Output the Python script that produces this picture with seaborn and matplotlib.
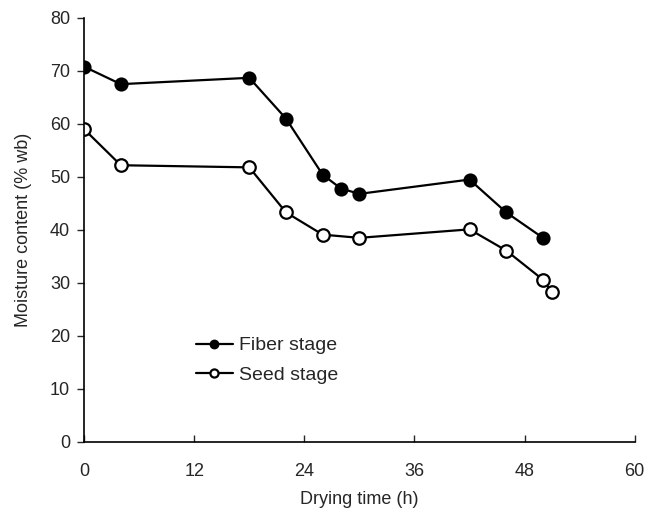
import pandas as pd
import matplotlib
matplotlib.use('Agg')
import matplotlib.pyplot as plt
import seaborn as sns

# data
fiber_time = [0, 4, 18, 22, 26, 28, 30, 42, 46, 50]
fiber_moisture = [70.8, 67.5, 68.7, 61.0, 50.4, 47.8, 46.8, 49.5, 43.3, 38.5]
seed_time = [0, 4, 18, 22, 26, 30, 42, 46, 50, 51]
seed_moisture = [59.0, 52.2, 51.8, 43.3, 39.1, 38.5, 40.1, 36.1, 30.6, 28.2]

fiber = pd.DataFrame({'time': fiber_time, 'moisture': fiber_moisture})
seed = pd.DataFrame({'time': seed_time, 'moisture': seed_moisture})

sns.set_style('ticks')
plt.rcParams['font.family'] = ['Liberation Sans', 'DejaVu Sans']

fig = plt.figure(figsize=(6.47, 5.12), dpi=100)
ax = fig.add_axes([0.130, 0.137, 0.851, 0.828])

sns.lineplot(data=fiber, x='time', y='moisture', ax=ax, color='black', lw=1.6,
             marker='o', markersize=9, markerfacecolor='black',
             markeredgecolor='black', markeredgewidth=1.2, label='Fiber stage')
sns.lineplot(data=seed, x='time', y='moisture', ax=ax, color='black', lw=1.6,
             marker='o', markersize=9, markerfacecolor='white',
             markeredgecolor='black', markeredgewidth=1.6, label='Seed stage')

ax.set_xlim(0, 60)
ax.set_ylim(0, 80)
ax.set_xticks(range(0, 61, 12))
ax.set_yticks(range(0, 81, 10))
ax.tick_params(axis='x', direction='in', length=5, width=1, labelsize=13, pad=15)
ax.tick_params(axis='y', direction='out', length=5, width=1, labelsize=13, pad=5)
for s in ['left', 'bottom']:
    ax.spines[s].set_linewidth(1.2)
    ax.spines[s].set_color('black')
sns.despine(ax=ax)

ax.set_xlabel('Drying time (h)', fontsize=13, labelpad=8)
ax.set_ylabel('Moisture content (% wb)', fontsize=13, labelpad=13)

ax.legend(loc='upper left', bbox_to_anchor=(0.203, 0.248), frameon=False,
          fontsize=14, handlelength=1.9, handletextpad=0.3, labelspacing=0.6,
          borderpad=0, borderaxespad=0, markerscale=0.65)

fig.savefig('out.png', dpi=100)
